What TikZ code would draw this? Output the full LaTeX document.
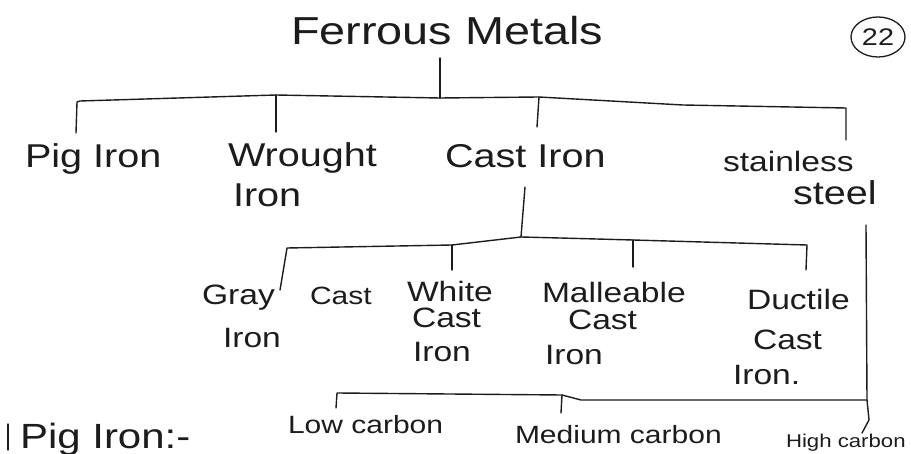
\documentclass[tikz,border=0pt]{standalone}
\usepackage{fontspec}
\setmainfont[FakeStretch=1.2]{Liberation Sans}
\usetikzlibrary{shapes.geometric}
\definecolor{ink}{HTML}{1C1C1C}
\tikzset{
  lbl/.style={anchor=base west, inner sep=0pt, outer sep=0pt, text=ink},
  ftitle/.style={font=\fontsize{39}{41}\selectfont},
  fone/.style={font=\fontsize{33}{35}\selectfont},
  ftwo/.style={font=\fontsize{28}{30}\selectfont},
  fthree/.style={font=\fontsize{25}{27}\selectfont},
  pen/.style={draw=ink, line width=1.4pt, line cap=round, line join=round},
}
\begin{document}
\begin{tikzpicture}[x=1pt,y=-1pt]
\useasboundingbox (0,0) rectangle (911,454);
% texts
\node[lbl,ftitle] (title) at (291,45) {Ferrous Metals};
\node[ellipse, draw=ink, line width=1.3pt, minimum width=54pt, minimum height=40pt, inner sep=0pt, text=ink, font=\fontsize{24}{26}\selectfont] (page) at (878,37) {22};

\node[lbl,fone] (pig) at (25,168) {Pig Iron};
\node[lbl,fone] (wro) at (228,167) {Wrought};
\node[lbl,fone] (wro2) at (233,207) {Iron};
\node[lbl,fone] (cast) at (445,168) {Cast Iron};
\node[lbl,ftwo] (stain) at (723,172) {stainless};
\node[lbl,fone] (steel) at (793,205) {steel};

\node[lbl,ftwo] (gray) at (202,305) {Gray};
\node[lbl,font=\fontsize{25}{27}\selectfont] (gray2) at (310,305) {Cast};
\node[lbl,ftwo] (gray3) at (223,348) {Iron};
\node[lbl,ftwo] (white) at (407,302) {White};
\node[lbl,ftwo] (white2) at (412,328) {Cast};
\node[lbl,ftwo] (white3) at (413,362) {Iron};
\node[lbl,ftwo] (mall) at (542,303) {Malleable};
\node[lbl,ftwo] (mall2) at (568,330) {Cast};
\node[lbl,ftwo] (mall3) at (545,365) {Iron};
\node[lbl,ftwo] (duct) at (747,310) {Ductile};
\node[lbl,ftwo] (duct2) at (753,350) {Cast};
\node[lbl,ftwo] (duct3) at (733,385) {Iron.};

\node[lbl,fthree] (low) at (288,433) {Low carbon};
\node[lbl,fthree] (med) at (515,443) {Medium carbon};
\node[lbl,font=\fontsize{18.5}{20}\selectfont] (high) at (786,447) {High carbon};
\node[lbl,font=\fontsize{35}{37}\selectfont] (pig2) at (20,448) {Pig Iron:-};
\draw[pen] (8,424) -- (8,450);

% level 1 bar
\coordinate (t0) at (440,58);
\coordinate (b0) at (440,98);
\coordinate (pA) at (77,102);
\coordinate (pA2) at (80,101);
\coordinate (pW) at (276,95);
\coordinate (pC) at (539,97);
\coordinate (pM) at (683,105);
\coordinate (pS) at (846,108);
\coordinate (dA) at (76,133);
\coordinate (dW) at (276,132);
\coordinate (dC) at (537,127);
\coordinate (dS) at (846,140);
\draw[pen] (t0) -- (b0);
\draw[pen] (dA) -- (pA) -- (pA2) -- (pW) -- (b0) -- (pC) -- (pM) -- (pS) -- (dS);
\draw[pen] (pW) -- (dW);
\draw[pen] (pC) -- (dC);

% level 2 bar
\coordinate (c0) at (525,187);
\coordinate (c1) at (521,237);
\coordinate (qG) at (287,248);
\coordinate (qW) at (452,245);
\coordinate (qM) at (633,240);
\coordinate (qD) at (807,245);
\coordinate (eG) at (280,290);
\coordinate (eW) at (452,270);
\coordinate (eM) at (633,267);
\coordinate (eD) at (806,270);
\draw[pen] (c0) -- (c1);
\draw[pen] (eG) -- (qG) -- (qW) -- (c1) -- (560,238) -- (qM) -- (qD) -- (eD);
\draw[pen] (qW) -- (eW);
\draw[pen] (qM) -- (eM);

% steel branch and level 3 bar
\coordinate (s0) at (866,225);
\coordinate (s1) at (867,400);
\coordinate (s2) at (869,420);
\coordinate (s3) at (862,433);
\coordinate (rL) at (337,393);
\coordinate (rM) at (562,395);
\coordinate (rM2) at (581,400);
\coordinate (fL) at (336,408);
\coordinate (fM) at (561,413);
\draw[pen] (s0) -- (s1) -- (s2) -- (s3);
\draw[pen] (fL) -- (rL) -- (rM) -- (rM2) -- (s1);
\draw[pen] (rM) -- (fM);
\end{tikzpicture}
\end{document}
